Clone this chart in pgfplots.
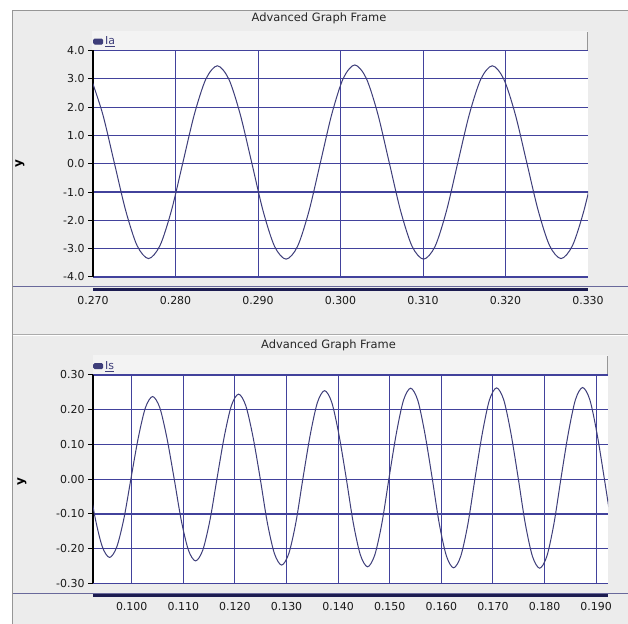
\documentclass[border=0pt]{standalone}
\usepackage{pgfplots}
\pgfplotsset{compat=1.18}
\usepackage{fontspec}
\setmainfont{DejaVu Sans}
\definecolor{framegray}{RGB}{236,236,236}
\definecolor{barfill}{RGB}{243,243,243}
\definecolor{gridblue}{RGB}{66,66,156}
\definecolor{curveblue}{RGB}{62,62,122}
\definecolor{axisnavy}{RGB}{28,28,80}
\definecolor{edgegray}{RGB}{150,150,150}
\definecolor{baseblue}{RGB}{105,105,155}
\pgfplotsset{
  gfstyle/.style={
    scale only axis, anchor=south west,
    axis background/.style={fill=white},
    axis x line*=bottom, axis y line*=left,
    x axis line style={axisnavy, line width=2.2bp},
    y axis line style={black, line width=1.2bp},
    grid=major,
    x grid style={gridblue, line width=1bp},
    y grid style={gridblue, line width=1.2bp},
    tick align=outside,
    major tick length=5bp,
    y tick style={black, line width=1bp},
    x tick style={draw=none},
    tick label style={font=\fontsize{11}{12}\selectfont, text=black!90},
    xticklabel style={yshift=2bp},
    ylabel={y},
    legend style={at={(rel axis cs:0,1)}, anchor=south west, draw=none, fill=none,
      inner sep=0pt, font=\fontsize{11}{12}\selectfont, text=curveblue, yshift=2bp,
      /tikz/every even column/.append style={column sep=1bp}},
    legend image code/.code={\fill[curveblue, rounded corners=1.2bp] (0bp,-2.5bp) rectangle (9bp,2.5bp);},
  }
}
\pgfplotstableread{
t y
0.26979 2.99
0.27118 1.75
0.27257 0.05
0.27396 -1.65
0.27534 -2.89
0.27673 -3.35
0.27812 -2.89
0.27951 -1.65
0.28090 0.05
0.28229 1.75
0.28368 2.99
0.28507 3.46
0.28646 2.99
0.28784 1.75
0.28923 0.05
0.29062 -1.67
0.29201 -2.92
0.29340 -3.37
0.29479 -2.92
0.29618 -1.67
0.29757 0.05
0.29896 1.77
0.30034 3.02
0.30173 3.49
0.30312 3.02
0.30451 1.77
0.30590 0.05
0.30729 -1.67
0.30868 -2.92
0.31007 -3.37
0.31146 -2.92
0.31284 -1.67
0.31423 0.05
0.31562 1.75
0.31701 2.99
0.31840 3.46
0.31979 2.99
0.32118 1.75
0.32257 0.05
0.32396 -1.65
0.32534 -2.89
0.32673 -3.35
0.32812 -2.89
0.32951 -1.65
0.33090 0.05
}\tableIa
\pgfplotstableread{
t y
0.09155 0.003
0.09294 -0.113
0.09432 -0.195
0.09571 -0.225
0.09710 -0.195
0.09849 -0.113
0.09988 0.004
0.10127 0.119
0.10266 0.206
0.10405 0.238
0.10544 0.206
0.10682 0.119
0.10821 0.003
0.10960 -0.118
0.11099 -0.204
0.11238 -0.235
0.11377 -0.204
0.11516 -0.118
0.11655 0.004
0.11794 0.123
0.11932 0.212
0.12071 0.245
0.12210 0.212
0.12349 0.123
0.12488 0.004
0.12627 -0.124
0.12766 -0.214
0.12905 -0.247
0.13044 -0.214
0.13182 -0.124
0.13321 0.005
0.13460 0.128
0.13599 0.221
0.13738 0.255
0.13877 0.221
0.14016 0.128
0.14155 0.005
0.14294 -0.126
0.14432 -0.218
0.14571 -0.252
0.14710 -0.218
0.14849 -0.126
0.14988 0.005
0.15127 0.131
0.15266 0.227
0.15405 0.262
0.15544 0.227
0.15682 0.131
0.15821 0.005
0.15960 -0.128
0.16099 -0.221
0.16238 -0.255
0.16377 -0.221
0.16516 -0.128
0.16655 0.005
0.16794 0.132
0.16932 0.228
0.17071 0.263
0.17210 0.228
0.17349 0.132
0.17488 0.005
0.17627 -0.128
0.17766 -0.222
0.17905 -0.256
0.18044 -0.222
0.18182 -0.128
0.18321 0.005
0.18460 0.132
0.18599 0.229
0.18738 0.264
0.18877 0.229
0.19016 0.132
0.19155 0.005
0.19294 -0.128
}\tableIs
\begin{document}
\begin{tikzpicture}[x=1bp,y=1bp]
\path[use as bounding box, fill=white] (0,0) rectangle (628,624);
\fill[framegray] (12.7,0) rectangle (628,613);
\draw[edgegray, line width=1bp] (12.7,0) -- (12.7,613) -- (628,613);
% legend bars
\fill[barfill] (92,573.5) rectangle (588,593);
\draw[edgegray, line width=0.8bp] (587.5,573.5) -- (587.5,592);
\fill[barfill] (93,249) rectangle (608,269);
\draw[edgegray, line width=0.8bp] (607.5,249) -- (607.5,268);
% panel separator
\draw[edgegray!80, line width=1bp] (12.7,289.5) -- (628,289.5);
\draw[white, line width=0.8bp] (12.7,288.5) -- (628,288.5);
% baselines
\draw[baseblue, line width=0.8bp] (12.7,337.3) -- (628,337.3);
\draw[baseblue, line width=0.8bp] (12.7,31) -- (628,31);
% titles
\node[font=\fontsize{11.5}{13}\selectfont, text=black!85] at (319bp,606bp) {Advanced Graph Frame};
\node[font=\fontsize{11.5}{13}\selectfont, text=black!85] at (328.5bp,279bp) {Advanced Graph Frame};

\begin{axis}[gfstyle,
  at={(93bp,347bp)}, width=495bp, height=226.5bp,
  xmin=0.27, xmax=0.33, ymin=-4, ymax=4,
  axis x line shift=12.5bp,
  xtick={0.27,0.28,0.29,0.30,0.31,0.32},
  xticklabels={0.270,0.280,0.290,0.300,0.310,0.320},
  extra x ticks={0.33}, extra x tick labels={0.330},
  extra x tick style={grid=none},
  ytick={-4,-3,-2,-1,0,1,2,3,4},
  yticklabels={-4.0,-3.0,-2.0,-1.0,0.0,1.0,2.0,3.0,4.0},
  ylabel style={at={(rel axis cs:-0.1475,0.5)}, anchor=center, font=\fontsize{12}{13}\selectfont\bfseries},
]
\addplot[curveblue, line width=1bp, smooth, tension=0.5] table[x=t,y=y] {\tableIa};
\addlegendentry{\underline{Ia}}
\end{axis}

\begin{axis}[gfstyle,
  at={(93bp,40.5bp)}, width=515bp, height=208.5bp,
  xmin=0.0925, xmax=0.1923, ymin=-0.3, ymax=0.3,
  axis x line shift=12bp,
  xtick={0.10,0.11,0.12,0.13,0.14,0.15,0.16,0.17,0.18,0.19},
  xticklabels={0.100,0.110,0.120,0.130,0.140,0.150,0.160,0.170,0.180,0.190},
  ytick={-0.3,-0.2,-0.1,0,0.1,0.2,0.3},
  yticklabels={-0.30,-0.20,-0.10,0.00,0.10,0.20,0.30},
  ylabel style={at={(rel axis cs:-0.138,0.488)}, anchor=center, font=\fontsize{12}{13}\selectfont\bfseries},
]
\addplot[curveblue, line width=1bp, smooth, tension=0.5] table[x=t,y=y] {\tableIs};
\addlegendentry{\underline{Is}}
\end{axis}
\end{tikzpicture}
\end{document}
